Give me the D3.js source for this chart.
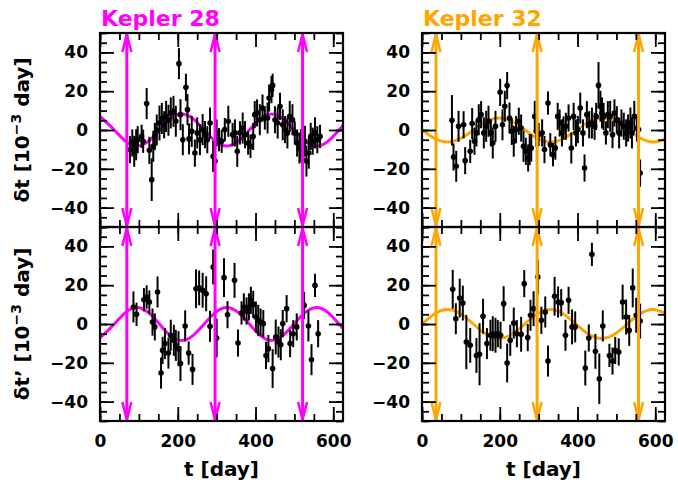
<!DOCTYPE html>
<html><head><meta charset="utf-8">
<script src="https://cdn.jsdelivr.net/npm/d3@7"></script>
<style>
body{margin:0;background:#fff}
svg{display:block}
text{font-family:"DejaVu Sans",sans-serif;font-weight:bold}
</style></head>
<body><script>
// ---- data: [t (day), value (1e-3 day), error] ----
const k28_dt = [[77,-10.1,7],[83,-6.7,7],[88,-11,8],[93,-7.6,8],[97,-5,7],[107,-3.3,6],[111,-5.8,6],[120,13.6,8],[127,-10.5,7],[133,-25.6,11],[137,-8.4,8],[141,-3.3,7],[146,0,8],[153,3.6,9],[159,6,8],[165,2.7,7],[170,7,8],[176,5,8],[182,8.8,8],[189,9.6,8],[195,4.5,8],[203,34.2,8],[207,7.9,8],[213,-5,8],[221,22,7],[225,10.5,8],[229,-4.6,8],[236,-0.7,8],[244,-11.9,7],[250,-1.5,8],[257,-5,8],[264,0.2,8],[270,-2.4,7],[276,-5,7],[283,3.6,8],[291,-13.6,8],[296,-16,9],[300,-1.5,7],[306,-5,6],[313,-5.8,6],[321,0.2,6],[330,4.5,8],[341,-2.4,6],[347,-1.5,7],[353,-11,8],[360,-1.5,6],[367,1,8],[373,-2.4,7],[381,-6.7,6],[387,-8.4,6],[394,-3.3,7],[398,7.9,7],[404,8.8,7],[411,5.3,8],[418,11.3,7],[424,6.2,6],[431,6.2,8],[435,16.5,7],[441,20.8,7],[444,23,6],[450,5.3,7],[457,3.6,8],[463,12.2,7],[470,2.7,8],[476,0.2,7],[482,-1.5,8],[488,7,8],[495,5.3,8],[501,-1.5,6],[507,-6.7,7],[513,-9.3,8],[517,-7.6,8],[521,-15.3,8],[527,-5.8,8],[531,-16,8],[537,-11.9,8],[542,-3.3,7],[547,-5.8,7],[553,-1.5,8],[559,-5,7],[566,-3.3,6]];
const k32_dt = [[77,5,13],[81,-13.9,7],[88,-18.7,8],[94,1.9,8],[107,2.7,7],[111,-15.8,7],[124,-11,6],[129,3.3,8],[135,-5.8,7],[140,-1.5,7],[146,5.3,8],[152,7.9,7],[159,-1.5,8],[165,1.9,8],[171,4.5,8],[177,-1.5,7],[182,-6.7,8],[189,1.9,8],[201,19.4,7],[207,2.7,8],[213,12.2,8],[219,22.9,7],[225,6.2,8],[231,-0.7,7],[236,-5.8,8],[242,0.2,7],[249,4.5,7],[255,1,7],[261,-8.4,8],[267,-11,7],[273,-14.4,7],[277,-10.1,8],[281,-9.3,7],[290,7,8],[294,-0.7,8],[300,-2.4,6],[309,-1.5,7],[315,-10.1,7],[324,13.9,6],[330,-7.6,6],[337,-12.7,6],[343,-9.3,6],[349,7,7],[354,3.6,7],[360,-1.5,7],[364,1,6],[370,1.9,7],[377,6.2,7],[384,-9.3,8],[390,7,7],[396,-1.5,7],[401,0.2,7],[407,11.3,8],[414,-1.5,7],[418,-19.6,7],[424,7.9,7],[430,2.7,7],[437,3.6,8],[444,1.9,7],[448,7,7],[454,23,12],[459,12.2,8],[463,8.8,8],[467,7,7],[473,-1.5,6],[478,7.9,7],[484,7,8],[490,-2.4,7],[495,8.8,7],[501,5.3,7],[507,-1.5,8],[513,3.6,7],[519,1.9,7],[525,-1.5,7],[530,1,7],[536,3.6,8],[540,-1.5,8],[546,7,8],[553,1,7],[557,0.2,7],[561,-22.2,7]];
const k28_dtp = [[86,8.8,8],[94,5,6],[113,12.5,6],[120,13.9,6],[127,11.3,6],[135,1,7],[141,-1.5,7],[148,16.5,8],[157,-25.3,8],[161,-13.6,7],[167,-10.1,8],[176,-15,8],[182,-5.8,8],[190,-8.4,8],[195,-11,8],[202,-12.7,9],[207,-20.4,9],[219,-1,8],[228,-15,6],[238,-23.4,8],[247,18.2,10],[255,18.6,9],[264,17.4,9],[273,15.6,9],[283,-1.2,8],[291,29.4,9],[300,-7.2,10],[319,23.9,10],[328,4.8,7],[346,22.5,9],[355,-9.8,7],[364,5.7,6],[370,8.8,7],[377,6.7,7],[383,8.8,7],[388,12.2,7],[394,10.1,7],[401,3.6,8],[407,1.9,8],[413,1,7],[420,0.2,7],[427,-16.2,7],[433,-12.7,7],[444,-23,10],[452,-6.7,9],[459,-9.3,8],[465,-10.7,8],[470,0.2,7],[480,7.9,7],[489,-10.1,7],[497,-5,7],[506,-1.5,7],[525,9.6,7],[536,-1,8],[544,-18.4,8],[553,19.9,6],[561,-5,7]];
const k32_dtp = [[79,17.9,10],[87,2.7,8],[97,13.4,10],[105,10.8,9],[114,-9.3,14],[124,-11,9],[140,-16.2,9],[148,-15.6,16],[157,4,9],[167,-10.1,8],[176,-5.8,8],[182,-5,9],[189,-5.8,9],[195,-5,7],[202,-5.8,7],[210,10.5,9],[219,-20.1,10],[227,-8.4,8],[236,0.5,8],[244,-5,7],[255,-5.3,9],[263,20.8,7],[272,-7,7],[279,4.5,8],[287,7.9,9],[298,24.2,9],[307,1.9,7],[317,6.2,8],[324,-19.1,8],[341,14.3,10],[350,11.3,8],[358,11,7],[369,-5.8,8],[377,12.2,7],[386,-1.5,9],[394,-1.5,8],[420,-22.7,9],[429,-7.2,7],[437,35.9,6],[446,-14.1,9],[456,-28.2,13],[465,-1,8],[482,-16.2,6],[490,-19.1,7],[497,-13.6,7],[506,-14.4,7],[516,11.3,9],[525,3.6,9],[533,-3.3,8],[542,18.6,10],[551,4.5,9],[561,1.5,9]];

// model curves [t, value]
const k28_dt_fit = [[0,7.0],[37,0],[66,-5.9],[95,-8.3],[124,-5.9],[153,0],[181,5.9],[210,8.3],[239,5.9],[268,0],[297,-5.9],[326,-8.3],[355,-5.9],[384,0],[413,5.9],[441,8.3],[470,5.9],[499,0],[528,-5.9],[557,-8.3],[586,-5.9],[615,0],[625,2.3]];
const k28_dtp_fit = [[0,-7.2],[37,0],[66,6.0],[95,8.5],[124,6.0],[153,0],[181,-6.0],[210,-8.5],[239,-6.0],[268,0],[297,6.0],[326,8.5],[355,6.0],[384,0],[413,-6.0],[441,-8.5],[470,-6.0],[499,0],[528,6.0],[557,8.5],[586,6.0],[615,0],[625,-2.3]];
const k32_dt_fit = [[0,0],[33,-4.4],[66,-6.2],[99,-4.4],[132,0],[166,4.4],[199,6.2],[232,4.4],[265,0],[298,-4.4],[331,-6.2],[364,-4.4],[397,0],[431,4.4],[464,6.2],[497,4.4],[530,0],[563,-4.4],[596,-6.2],[625,-4.7]];
const k32_dtp_fit = [[0,0],[33,5.3],[66,7.5],[99,5.3],[132,0],[165,-5.3],[198,-7.5],[231,-5.3],[264,0],[297,5.3],[330,7.5],[363,5.3],[396,0],[429,-5.3],[462,-7.5],[495,-5.3],[528,0],[561,5.3],[594,7.5],[625,5.6]];

// marked epochs (arrows)
const k28_marks = [69, 296, 521];
const k32_marks = [36, 296, 557];

const xTicksMajor = [0, 200, 400, 600];
const yTicksMajor = [-40, -20, 0, 20, 40];
const titles = ["Kepler 28", "Kepler 32"];
const colors = ["#ff00ff", "#ffa500"];

// ---- drawing ----
const svg = d3.select("body").append("svg").attr("width", 678).attr("height", 483);
const cols = [[100, 343], [422, 665]];
const rows = [[33, 227], [227, 421]];
const xMinor = d3.range(0, 626, 50);
const yMinor = d3.range(-50, 51, 5);

const panels = [
  {c:0, r:0, data:k28_dt, fit:k28_dt_fit, marks:k28_marks},
  {c:1, r:0, data:k32_dt, fit:k32_dt_fit, marks:k32_marks},
  {c:0, r:1, data:k28_dtp, fit:k28_dtp_fit, marks:k28_marks},
  {c:1, r:1, data:k32_dtp, fit:k32_dtp_fit, marks:k32_marks}
];

panels.forEach((p, i) => {
  const [x0, x1] = cols[p.c], [y0, y1] = rows[p.r];
  const x = d3.scaleLinear().domain([0, 625]).range([x0, x1]);
  const y = d3.scaleLinear().domain([-50, 50]).range([y1, y0]);
  const col = colors[p.c];
  const g = svg.append("g");
  const cid = "clip" + i;
  svg.append("clipPath").attr("id", cid).append("rect")
    .attr("x", x0).attr("y", y0).attr("width", x1 - x0).attr("height", y1 - y0);

  // fit curve
  g.append("path").datum(p.fit)
    .attr("clip-path", `url(#${cid})`)
    .attr("fill", "none").attr("stroke", col).attr("stroke-width", 3)
    .attr("d", d3.line().x(d => x(d[0])).y(d => y(d[1])).curve(d3.curveNatural));

  // error bars
  g.selectAll("line.err").data(p.data).join("line")
    .attr("x1", d => x(d[0])).attr("x2", d => x(d[0]))
    .attr("y1", d => y(d[1] - d[2])).attr("y2", d => y(d[1] + d[2]))
    .attr("stroke", "#000").attr("stroke-width", 2);
  g.selectAll("circle").data(p.data).join("circle")
    .attr("cx", d => x(d[0])).attr("cy", d => y(d[1])).attr("r", 2.8).attr("fill", "#000");

  // arrows
  p.marks.forEach(t => {
    const xx = x(t);
    g.append("line").attr("x1", xx).attr("x2", xx).attr("y1", y0 + 1).attr("y2", y1 - 1)
      .attr("stroke", col).attr("stroke-width", 3);
    g.append("path").attr("d", `M${xx-4.5},${y0+19}L${xx},${y0+1}L${xx+4.5},${y0+19}`)
      .attr("fill", "none").attr("stroke", col).attr("stroke-width", 2.5);
    g.append("path").attr("d", `M${xx-4.5},${y1-19}L${xx},${y1-1}L${xx+4.5},${y1-19}`)
      .attr("fill", "none").attr("stroke", col).attr("stroke-width", 2.5);
  });

  // axes: minor & major ticks on all four sides (inward)
  const mk = (axis, tr) => {
    const a = g.append("g").attr("transform", tr).call(axis);
    a.select(".domain").remove();
    a.selectAll(".tick line").attr("stroke", "#000").attr("stroke-width", 1.8);
    return a;
  };
  mk(d3.axisBottom(x).tickValues(xMinor).tickSize(-7).tickFormat(""), `translate(0,${y1})`);
  mk(d3.axisTop(x).tickValues(xMinor).tickSize(-7).tickFormat(""), `translate(0,${y0})`);
  mk(d3.axisTop(x).tickValues(xTicksMajor).tickSize(-14).tickFormat(""), `translate(0,${y0})`);
  mk(d3.axisLeft(y).tickValues(yMinor).tickSize(-7).tickFormat(""), `translate(${x0},0)`);
  mk(d3.axisRight(y).tickValues(yMinor).tickSize(-7).tickFormat(""), `translate(${x1},0)`);
  mk(d3.axisRight(y).tickValues(yTicksMajor).tickSize(-14).tickFormat(""), `translate(${x1},0)`);

  const yl = mk(d3.axisLeft(y).tickValues(yTicksMajor).tickSize(-14).tickPadding(12)
      .tickFormat(d => d < 0 ? "\u2212" + Math.abs(d) : d), `translate(${x0},0)`);
  yl.selectAll("text").attr("font-size", 17).attr("fill", "#000")
    .style("font-family", '"DejaVu Sans",sans-serif').style("font-weight", "bold");

  const xb = mk(d3.axisBottom(x).tickValues(xTicksMajor).tickSize(-14).tickPadding(14)
      .tickFormat(d => p.r === 1 ? d : ""), `translate(0,${y1})`);
  xb.selectAll("text").attr("font-size", 17).attr("fill", "#000")
    .style("font-family", '"DejaVu Sans",sans-serif').style("font-weight", "bold");

  // frame
  g.append("rect").attr("x", x0).attr("y", y0).attr("width", x1 - x0).attr("height", y1 - y0)
    .attr("fill", "none").attr("stroke", "#000").attr("stroke-width", 2.2);
});

// titles
titles.forEach((t, i) => {
  svg.append("text").attr("x", cols[i][0] + 1).attr("y", 26).attr("font-size", 22)
    .attr("fill", colors[i]).text(t);
  svg.append("text").attr("x", (cols[i][0] + cols[i][1]) / 2).attr("y", 476)
    .attr("text-anchor", "middle").attr("font-size", 20).attr("fill", "#000").text("t [day]");
});

// y labels
[["\u03b4t", rows[0]], ["\u03b4t\u2019", rows[1]]].forEach(([lab, r]) => {
  const cy = (r[0] + r[1]) / 2;
  const t = svg.append("text").attr("transform", `translate(29,${cy}) rotate(-90)`)
    .attr("text-anchor", "middle").attr("font-size", 20).attr("fill", "#000");
  t.append("tspan").text(lab + " [10");
  t.append("tspan").attr("dy", -8).attr("font-size", 14).text("\u22123");
  t.append("tspan").attr("dy", 8).text(" day]");
});
</script></body></html>
